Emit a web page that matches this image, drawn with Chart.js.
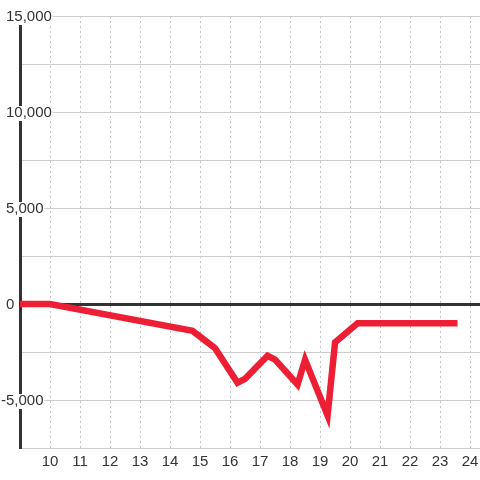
<!DOCTYPE html>
<html>
<head>
<meta charset="utf-8">
<script src="https://cdn.jsdelivr.net/npm/chart.js@4/dist/chart.umd.min.js"></script>
<style>
  html, body { margin: 0; padding: 0; background: #fff; }
  #wrap { width: 480px; height: 480px; position: relative; }
</style>
</head>
<body>
<div id="wrap"><canvas id="chart"></canvas></div>
<script>
// hour of day and balance values
const hours = [9, 10, 14.75, 15.25, 15.5, 16.25, 16.5, 17.25, 17.5, 18.25, 18.5, 19.25, 19.5, 20.25, 23.58];
const values = [0, 0, -1400, -2000, -2300, -4100, -3900, -2700, -2900, -4200, -2900, -5800, -2000, -1000, -1000];
const xTicks = [10, 11, 12, 13, 14, 15, 16, 17, 18, 19, 20, 21, 22, 23, 24];
const yLabelTicks = [-5000, 0, 5000, 10000, 15000];

const FONT = '"Liberation Sans", Arial, sans-serif';

// y labels sit on top of the axis line with a white box behind them,
// left aligned, minus sign hanging to the left
const yLabelPlugin = {
    id: 'yLabels',
    afterDraw(chart) {
        const ctx = chart.ctx;
        const y = chart.scales.y;
        ctx.save();
        ctx.font = '15px ' + FONT;
        ctx.textAlign = 'left';
        ctx.textBaseline = 'middle';
        yLabelTicks.forEach(function (v) {
            const text = Math.abs(v).toLocaleString('en-US');
            const py = y.getPixelForValue(v);
            const left = 6;
            const w = ctx.measureText(text).width;
            let boxLeft = left - 1;
            if (v < 0) boxLeft -= ctx.measureText('-').width;
            ctx.fillStyle = '#fff';
            ctx.fillRect(boxLeft, py - 6, left + w + 1 - boxLeft, 15);
            ctx.fillStyle = '#333';
            ctx.fillText(text, left, py + 1);
            if (v < 0) {
                ctx.textAlign = 'right';
                ctx.fillText('-', left, py + 1);
                ctx.textAlign = 'left';
            }
        });
        ctx.restore();
    }
};

new Chart(document.getElementById('chart'), {
    type: 'line',
    data: {
        datasets: [{
            data: hours.map(function (h, i) { return { x: h, y: values[i] }; }),
            borderColor: '#ee1f35',
            borderWidth: 6.5,
            pointRadius: 0,
            tension: 0,
            fill: false,
            borderCapStyle: 'butt',
            borderJoinStyle: 'miter'
        }]
    },
    options: {
        responsive: true,
        maintainAspectRatio: false,
        animation: false,
        layout: { padding: { left: 20, right: 0, top: 16, bottom: 4 } },
        plugins: {
            legend: { display: false },
            tooltip: { enabled: false }
        },
        scales: {
            x: {
                type: 'linear',
                min: 9,
                max: 24.33,
                afterBuildTicks: function (scale) {
                    scale.ticks = xTicks.map(function (v) { return { value: v }; });
                },
                afterFit: function (scale) {
                    // let the plot run to the right edge
                    scale.paddingRight = 0;
                    scale.paddingLeft = 0;
                },
                grid: {
                    color: '#c4c4c4',
                    lineWidth: 1,
                    drawTicks: false
                },
                border: { display: false, dash: [2, 3] },
                ticks: {
                    color: '#333',
                    font: { family: FONT, size: 15 },
                    padding: 5,
                    maxRotation: 0
                }
            },
            y: {
                min: -7500,
                max: 15000,
                afterBuildTicks: function (scale) {
                    const t = [];
                    for (let v = -7500; v <= 15000; v += 2500) t.push({ value: v });
                    scale.ticks = t;
                },
                grid: {
                    color: function (c) { return c.tick && c.tick.value === 0 ? '#333' : '#cccccc'; },
                    lineWidth: function (c) { return c.tick && c.tick.value === 0 ? 3 : 1; },
                    drawTicks: false
                },
                border: { display: true, color: '#333', width: 3 },
                ticks: { display: false }
            }
        }
    },
    plugins: [yLabelPlugin]
});
</script>
</body>
</html>
